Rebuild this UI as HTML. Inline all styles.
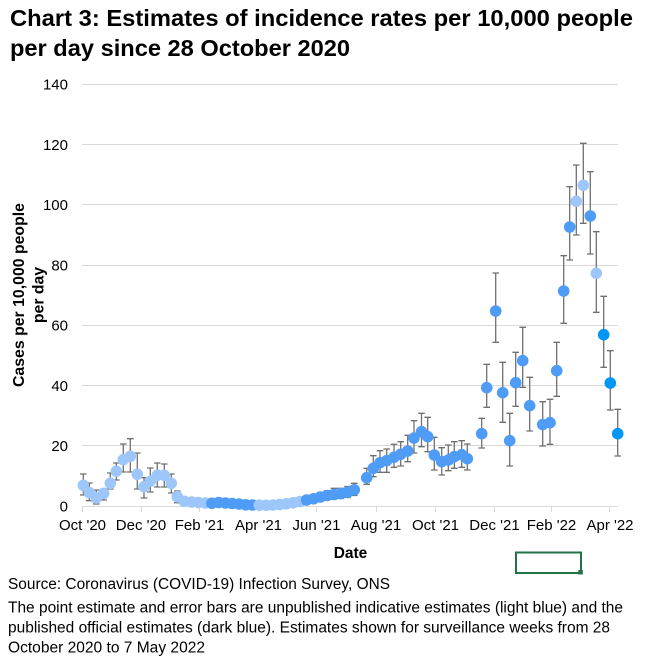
<!DOCTYPE html>
<html><head><meta charset="utf-8"><style>
html,body{margin:0;padding:0;background:#fff;}
svg{display:block;}
text{font-family:"Liberation Sans",Arial,sans-serif;fill:#000;}
</style></head><body>
<svg width="648" height="666" viewBox="0 0 648 666" xmlns="http://www.w3.org/2000/svg">
<rect width="648" height="666" fill="#fff"/>
<!-- Title -->
<text x="10" y="26" font-size="23.5" font-weight="bold" textLength="623" lengthAdjust="spacingAndGlyphs">Chart 3: Estimates of incidence rates per 10,000 people</text>
<text x="10" y="56" font-size="23.5" font-weight="bold" textLength="340" lengthAdjust="spacingAndGlyphs">per day since 28 October 2020</text>

<!-- Gridlines -->
<g stroke="#D9D9D9" stroke-width="1">
<line x1="82" y1="84.5" x2="618" y2="84.5"/>
<line x1="82" y1="144.5" x2="618" y2="144.5"/>
<line x1="82" y1="204.5" x2="618" y2="204.5"/>
<line x1="82" y1="265.5" x2="618" y2="265.5"/>
<line x1="82" y1="325.5" x2="618" y2="325.5"/>
<line x1="82" y1="385.5" x2="618" y2="385.5"/>
<line x1="82" y1="445.5" x2="618" y2="445.5"/>
<line x1="82" y1="506.5" x2="618" y2="506.5"/>
<line x1="82.5" y1="506" x2="82.5" y2="512"/>
<line x1="141.5" y1="506" x2="141.5" y2="512"/>
<line x1="199.5" y1="506" x2="199.5" y2="512"/>
<line x1="258.5" y1="506" x2="258.5" y2="512"/>
<line x1="316.5" y1="506" x2="316.5" y2="512"/>
<line x1="376.5" y1="506" x2="376.5" y2="512"/>
<line x1="435.5" y1="506" x2="435.5" y2="512"/>
<line x1="494.5" y1="506" x2="494.5" y2="512"/>
<line x1="551.5" y1="506" x2="551.5" y2="512"/>
<line x1="609.5" y1="506" x2="609.5" y2="512"/>
</g>

<!-- Y tick labels -->
<g font-size="15" text-anchor="end">
<text x="68" y="89.5">140</text>
<text x="68" y="149.8">120</text>
<text x="68" y="210">100</text>
<text x="68" y="270.4">80</text>
<text x="68" y="330.6">60</text>
<text x="68" y="390.9">40</text>
<text x="68" y="451.2">20</text>
<text x="68" y="511.5">0</text>
</g>

<!-- X tick labels -->
<g font-size="15" text-anchor="middle">
<text x="82.5" y="530">Oct '20</text>
<text x="141" y="530">Dec '20</text>
<text x="199.5" y="530">Feb '21</text>
<text x="258.5" y="530">Apr '21</text>
<text x="316.5" y="530">Jun '21</text>
<text x="376" y="530">Aug '21</text>
<text x="435.5" y="530">Oct '21</text>
<text x="494.5" y="530">Dec '21</text>
<text x="551.5" y="530">Feb '22</text>
<text x="610" y="530">Apr '22</text>
</g>

<!-- Axis titles -->
<text x="350.5" y="558" font-size="15.5" font-weight="bold" text-anchor="middle">Date</text>
<text transform="translate(24,295) rotate(-90)" font-size="15.8" font-weight="bold" text-anchor="middle" textLength="184" lengthAdjust="spacingAndGlyphs">Cases per 10,000 people</text>
<text transform="translate(43.3,295) rotate(-90)" font-size="15.8" font-weight="bold" text-anchor="middle">per day</text>

<!-- Error bars -->
<g stroke="#707070" stroke-width="1.3" fill="none" id="eb"></g>
<!-- Markers -->
<g id="mk"></g>

<!-- Footer -->
<g font-size="15.4">
<text x="8" y="589" textLength="382" lengthAdjust="spacingAndGlyphs">Source: Coronavirus (COVID-19) Infection Survey, ONS</text>
<text x="8" y="612.7" textLength="615" lengthAdjust="spacingAndGlyphs">The point estimate and error bars are unpublished indicative estimates (light blue) and the</text>
<text x="8" y="632.7" textLength="602" lengthAdjust="spacingAndGlyphs">published official estimates (dark blue). Estimates shown for surveillance weeks from 28</text>
<text x="8" y="652.7" textLength="197" lengthAdjust="spacingAndGlyphs">October 2020 to 7 May 2022</text>
</g>

<!-- Excel selection box -->
<rect x="516" y="552.5" width="65" height="20.5" fill="none" stroke="#217346" stroke-width="2"/>
<rect x="578.3" y="570" width="4.5" height="4.5" fill="#217346"/>

<script>
(function(){
var L="#9DC7FA",D="#4F9CF7",B="#0096F5";
var pts=[
[83.3,485.3,474,495,L],[89.3,492.7,483,500.7,L],[96.3,498,490,504,L],[103.7,493.3,489,500,L],
[110.3,483.3,473,489,L],[116.3,471.3,463,480,L],[123.3,459.7,444,472,L],[130.3,456.3,438.7,472,L],
[137.3,474.3,453,489,L],[144,486.7,477.7,498,L],[150.3,481.3,468,492,L],[157.3,475.3,463,487,L],
[164.3,475.3,464,487,L],[171.3,483.3,474,493,L],[177.3,496.7,491,502.7,L],[184.3,501.3,497.5,504.5,L],
[191.7,502,499,504.5,L],[198.5,502.5,499.5,505,L],[205.3,503,500.5,505,L],
[211.9,503.3,501,505.5,D],[218.7,502.5,500,505,D],[225.5,503,500.5,505.5,D],[232.2,503.5,501,505.5,D],
[239,504,502,506,D],[245.7,504.8,503,506,D],[252.5,505,503,506,D],
[259.3,505.2,503.5,506,L],[266.1,505.3,503.5,506,L],[272.9,505,503.5,506,L],[279.6,504.5,503,506,L],
[286.4,503.8,502,505.5,L],[293.2,502.8,501,505,L],[299.9,501.5,499.5,503.5,L],
[306.6,500,496,503.5,D],[313.6,498.8,494.5,502.5,D],[320.4,497,492.5,501,D],[327.2,495.5,490.7,499.5,D],
[333.9,494.5,488.3,499,D],[340.7,493.6,488.3,498.5,D],[347.5,492.3,486.5,497.5,D],[354.3,489.8,483.3,495.5,D],
[366.7,477.7,468.3,484.3,D],[373.3,468.3,455.7,476.7,D],[380,462.7,450.7,472.3,D],[386.7,460.7,449,472.3,D],
[394,457.3,444.3,467.3,D],[400.7,454.3,441.7,466,D],[407.7,451,435.3,461.7,D],[414,438,420.7,453,D],
[421.5,431.7,413.3,446.7,D],[427.7,436.7,417.3,451.7,D],[434.3,455,437.3,470,D],[441.7,461.7,447.7,475,D],
[448.3,460,445,470.7,D],[454.3,456.7,441.7,468.3,D],[461.7,454.7,440.7,467.3,D],[467.3,458.7,444,470,D],
[481.7,433.7,418.3,448,D],[486.7,387.7,364.3,407.3,D],[495.7,311,273,342.3,D],[502.7,392.7,362.3,422.3,D],
[509.7,440.7,413.3,466,D],[515.7,382.7,352.3,406.3,D],[522.7,360.7,327.3,387.3,D],[529.7,405.7,377.3,431,D],
[542.7,424.5,401.7,446,D],[550,422.7,399.3,444.3,D],[556.7,370.7,342.3,396.3,D],[563.7,291,255.7,323.3,D],
[569.7,227,186.7,260,D],[576.3,201.3,165,235,L],[583.3,185.3,143.3,223.3,L],[590.3,216,171.7,254,D],
[596.3,273.3,231.7,312.3,L],[603.7,334.7,296.3,367.3,B],[610.3,383,350.7,410,B],[617.7,433.7,409.3,456,B]
];
var ns="http://www.w3.org/2000/svg";
var eb=document.getElementById("eb"),mk=document.getElementById("mk");
var d="";
pts.forEach(function(p){
 var x=p[0],t=p[2],b=p[3],c=3.3;
 d+="M"+x+" "+t+"V"+b+"M"+(x-c)+" "+t+"H"+(x+c)+"M"+(x-c)+" "+b+"H"+(x+c);
});
var path=document.createElementNS(ns,"path");path.setAttribute("d",d);eb.appendChild(path);
pts.forEach(function(p){
 var c=document.createElementNS(ns,"circle");
 c.setAttribute("cx",p[0]);c.setAttribute("cy",p[1]);c.setAttribute("r",5.8);c.setAttribute("fill",p[4]);
 mk.appendChild(c);
});
})();
</script>
</svg>
</body></html>
